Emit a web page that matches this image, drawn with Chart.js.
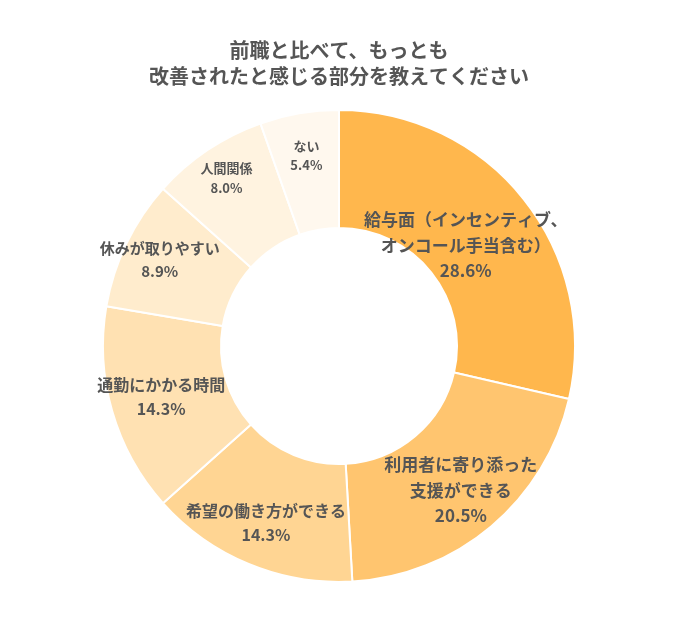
<!DOCTYPE html>
<html><head><meta charset="utf-8">
<script src="https://cdn.jsdelivr.net/npm/chart.js@4"></script>
<style>body{margin:0;background:#fff}</style>
</head><body>
<canvas id="c" width="678" height="628"></canvas>
<script>
var categories = [["給与面（インセンティブ、", "オンコール手当含む）"], ["利用者に寄り添った", "支援ができる"], ["希望の働き方ができる"], ["通勤にかかる時間"], ["休みが取りやすい"], ["人間関係"], ["ない"]];
var values = [28.6, 20.5, 14.3, 14.3, 8.9, 8.0, 5.4];
var colors = ["#FFB74D", "#FFC56F", "#FFD593", "#FFE1B2", "#FFECCD", "#FFF3E0", "#FFF8EE"];
var labelSizes = [17, 17, 16, 16, 15, 13, 13];
var labelOffsets = [-15, 12, 14, 8, 22, 25, 16];

var labelPlugin = {
    id: "sliceLabels",
    afterDatasetsDraw: function (chart) {
        var ctx = chart.ctx;
        var meta = chart.getDatasetMeta(0);
        meta.data.forEach(function (arc, i) {
            var a = (arc.startAngle + arc.endAngle) / 2;
            var r = (arc.innerRadius + arc.outerRadius) / 2 + labelOffsets[i];
            var x = arc.x + Math.cos(a) * r;
            var y = arc.y + Math.sin(a) * r;
            var lines = categories[i].concat([values[i].toFixed(1) + "%"]);
            var s = labelSizes[i];
            var lh = s * 1.5;
            ctx.save();
            ctx.fillStyle = "#555";
            ctx.font = "bold " + s + "px 'Noto Sans CJK JP'";
            ctx.textAlign = "center";
            ctx.textBaseline = "middle";
            var y0 = y - (lines.length - 1) * lh / 2;
            lines.forEach(function (t, j) { ctx.fillText(t, x, y0 + j * lh); });
            ctx.restore();
        });
    }
};

new Chart("c", {
    type: "doughnut",
    data: {
        labels: categories.map(function (c) { return c.join(""); }),
        datasets: [{ data: values, backgroundColor: colors, borderColor: "#fff", borderWidth: 2 }]
    },
    options: {
        responsive: false,
        animation: false,
        cutout: "50%",
        layout: { padding: { top: 15, bottom: 45 } },
        plugins: {
            legend: { display: false },
            tooltip: { enabled: false },
            title: {
                display: true,
                text: ["前職と比べて、もっとも", "改善されたと感じる部分を教えてください"],
                color: "#555",
                font: { size: 20, weight: "bold", family: "'Noto Sans CJK JP'", lineHeight: 1.3 },
                padding: { top: 22, bottom: 20 }
            }
        }
    },
    plugins: [labelPlugin]
});
</script>
</body></html>
